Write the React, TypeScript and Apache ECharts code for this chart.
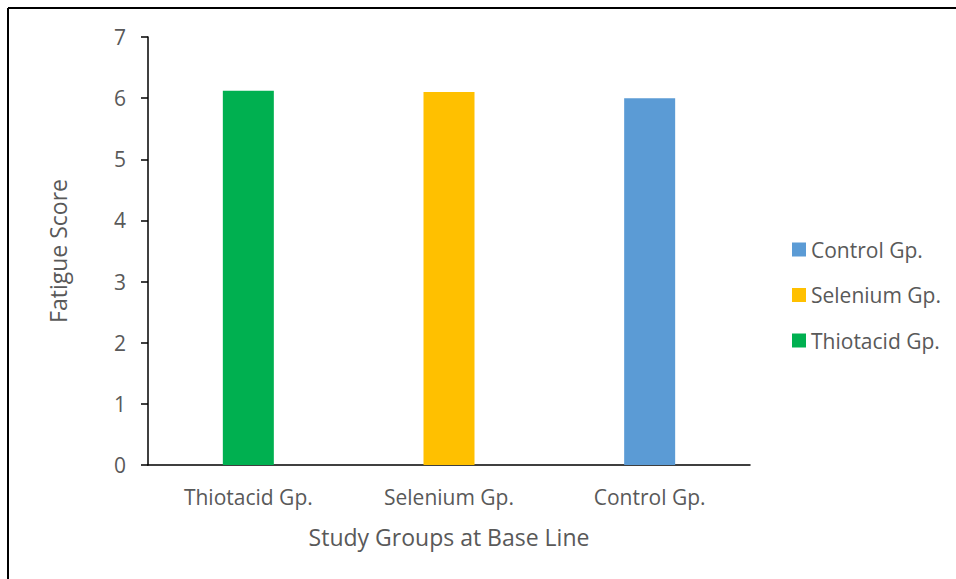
import React, { useEffect, useRef } from "react";
import * as echarts from "echarts";

const categories = ["Thiotacid Gp.", "Selenium Gp.", "Control Gp."];
const groupValues = [6.12, 6.1, 6.0];
const groupColors = ["#00B050", "#FFC000", "#5B9BD5"];
const legendOrder = ["Control Gp.", "Selenium Gp.", "Thiotacid Gp."];
const yTicks = { min: 0, max: 7, interval: 1 };

export default function App() {
  const ref = useRef<HTMLDivElement>(null);
  useEffect(() => {
    if (!ref.current) return;
    const chart = echarts.init(ref.current, null, { renderer: "svg" });
    const font = "'Open Sans', 'Liberation Sans', sans-serif";
    const series = categories.map((name, i) => ({
      name,
      type: "bar",
      stack: "g",
      barWidth: 51,
      itemStyle: { color: groupColors[i] },
      data: categories.map((_, j) => (j === i ? groupValues[i] : "-")),
    }));
    chart.setOption({
      animation: false,
      backgroundColor: "#fff",
      textStyle: { fontFamily: font },
      grid: { left: 148, top: 37, right: 206, bottom: 114, containLabel: false },
      legend: {
        orient: "vertical",
        left: 787,
        top: 234,
        itemWidth: 14,
        itemHeight: 14,
        itemGap: 24.5,
        icon: "rect",
        data: legendOrder,
        textStyle: { color: "#595959", fontSize: 21, fontFamily: font },
      },
      xAxis: {
        type: "category",
        data: categories,
        name: "Study Groups at Base Line",
        nameLocation: "middle",
        nameGap: 60,
        nameTextStyle: { color: "#595959", fontSize: 23, fontFamily: font },
        axisLine: { lineStyle: { color: "#000", width: 1.5 } },
        axisTick: { show: false },
        axisLabel: { color: "#595959", fontSize: 21, margin: 21, fontFamily: font },
      },
      yAxis: {
        type: "value",
        min: yTicks.min,
        max: yTicks.max,
        interval: yTicks.interval,
        name: "Fatigue Score",
        nameLocation: "middle",
        nameGap: 79,
        nameTextStyle: { color: "#595959", fontSize: 23, fontFamily: font },
        axisLine: { show: true, lineStyle: { color: "#000", width: 1.5 } },
        axisTick: { show: true, length: 7, lineStyle: { color: "#000", width: 1.5 } },
        splitLine: { show: false },
        axisLabel: { color: "#595959", fontSize: 21, margin: 22, fontFamily: font },
      },
      graphic: [
        { type: "line", shape: { x1: 8, y1: 8, x2: 956, y2: 8 }, style: { stroke: "#000", lineWidth: 2 } },
        { type: "line", shape: { x1: 8, y1: 8, x2: 8, y2: 579 }, style: { stroke: "#000", lineWidth: 2 } },
      ],
      series,
    });
    return () => chart.dispose();
  }, []);
  return (
    <div
      ref={ref}
      style={{ position: "fixed", left: 0, top: 0, width: 956, height: 579, background: "#fff" }}
    />
  );
}
